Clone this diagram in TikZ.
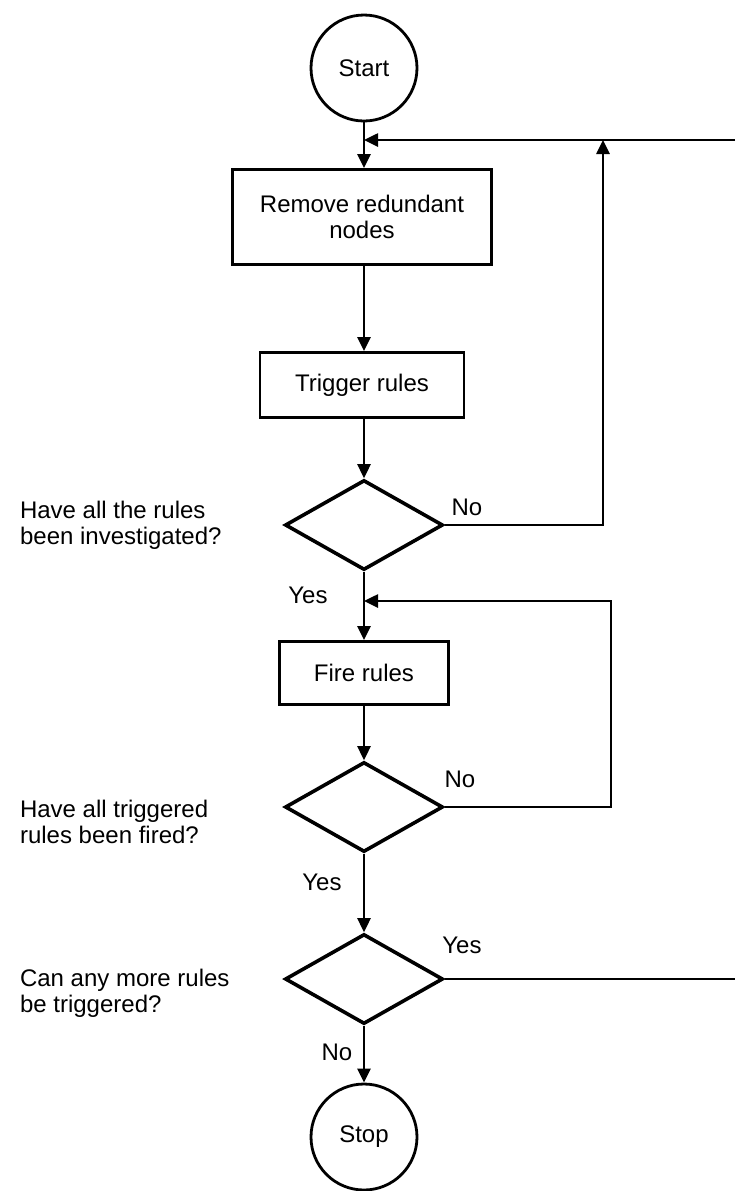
\documentclass[tikz,border=0pt]{standalone}
\usepackage{fontspec}
\setmainfont{Liberation Sans}
\usetikzlibrary{arrows.meta,shapes.geometric}

\begin{document}
\begin{tikzpicture}[
    x=0.5pt,y=-0.5pt,
    >={Triangle[length=7pt,width=6.5pt]},
    every node/.style={font=\fontsize{12}{13}\selectfont},
    line/.style={line width=1.3pt},
    box/.style={draw,line width=1.4pt,inner sep=0pt,align=center},
    decision/.style={draw,diamond,line width=1.8pt,minimum width=79pt,minimum height=45pt,inner sep=0pt},
    terminal/.style={draw,circle,line width=1.4pt,minimum size=53pt,inner sep=0pt},
    question/.style={anchor=west,align=left}
]

\useasboundingbox (0,0) rectangle (735,1191);

% main column
\node[terminal] (start) at (364,68) {Start};
\node[box,minimum width=129.5pt,minimum height=47.5pt] (remove) at (362,217) {Remove redundant\\nodes};
\node[box,minimum width=102pt,minimum height=32.5pt] (trigger) at (362,385) {Trigger rules};
\node[decision] (d1) at (364,525) {};
\node[box,minimum width=84.5pt,minimum height=31.5pt] (fire) at (364,673) {Fire rules};
\node[decision] (d2) at (364,807) {};
\node[decision] (d3) at (364,979) {};
\node[terminal] (stop) at (364,1137) {Stop};

% loop corners
\coordinate (j1) at (364,140);
\coordinate (e1) at (735,140);
\coordinate (u1) at (603,140);
\coordinate (j2) at (364,601);
\coordinate (r2) at (611,601);
\coordinate (e3) at (735,979);

% questions
\node[question] (q1) at (13,525) {Have all the rules\\been investigated?};
\node[question] (q2) at (13,822) {Have all triggered\\rules been fired?};
\node[question] (q3) at (13,993) {Can any more rules\\be triggered?};

% answers
\node (no1)  at (467,507)  {No};
\node (yes1) at (308,595)  {Yes};
\node (no2)  at (460,779)  {No};
\node (yes2) at (322,882)  {Yes};
\node (yes3) at (462,945)  {Yes};
\node (no3)  at (337,1052) {No};

% arrows
\draw[line,->] (start) -- (start|-remove.north);
\draw[line,->] (e1) -- (j1);
\draw[line,->] (remove.south-|d1) -- (trigger.north-|d1);
\draw[line,->] (trigger.south-|d1) -- (d1);
\draw[line,->] (d1.east) -| (u1);
\draw[line,->] (d1) -- (fire);
\draw[line,->] (d2.east) -| (r2) -- (j2);
\draw[line,->] (fire) -- (d2);
\draw[line,->] (d2) -- (d3);
\draw[line] (d3.east) -- (e3);
\draw[line,->] (d3) -- (stop);

\end{tikzpicture}
\end{document}
